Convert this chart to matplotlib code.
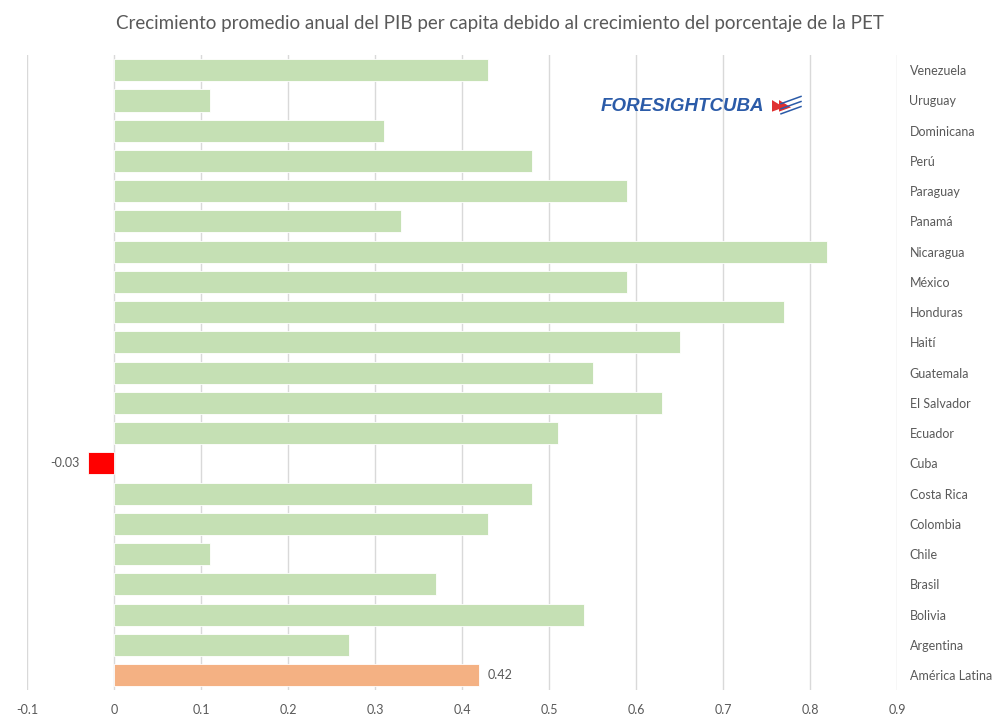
#!/usr/bin/env python3
"""Crecimiento del PIB per capita debido a la PET - bar chart"""
import matplotlib
matplotlib.use('Agg')
import matplotlib.pyplot as plt
from matplotlib.lines import Line2D
from matplotlib.patches import Polygon

countries = ['Venezuela', 'Uruguay', 'Dominicana', 'Perú', 'Paraguay', 'Panamá',
             'Nicaragua', 'México', 'Honduras', 'Haití', 'Guatemala', 'El Salvador',
             'Ecuador', 'Cuba', 'Costa Rica', 'Colombia', 'Chile', 'Brasil',
             'Bolivia', 'Argentina', 'América Latina']
values = [0.43, 0.11, 0.31, 0.48, 0.59, 0.33, 0.82, 0.59, 0.77, 0.65, 0.55, 0.63,
          0.51, -0.03, 0.48, 0.43, 0.11, 0.37, 0.54, 0.27, 0.42]
x_ticks = [-0.1, 0, 0.1, 0.2, 0.3, 0.4, 0.5, 0.6, 0.7, 0.8, 0.9]
x_tick_labels = ['-0.1', '0', '0.1', '0.2', '0.3', '0.4', '0.5', '0.6', '0.7', '0.8', '0.9']

plt.rcParams['font.family'] = ['Lato', 'DejaVu Sans']
grey = '#595959'

colors = []
for c, v in zip(countries, values):
    if c == 'América Latina':
        colors.append('#f4b183')
    elif c == 'Cuba':
        colors.append('#ff0000')
    else:
        colors.append('#c5e0b4')

fig = plt.figure(figsize=(10, 7.25), dpi=100)
ax = fig.add_axes([0.027, 0.048, 0.87, 0.876])

ypos = list(range(len(countries)))
ax.barh(ypos, values, height=0.73, color=colors, edgecolor='white', linewidth=0.6, zorder=3)

ax.set_xlim(-0.1, 0.9)
ax.set_ylim(len(countries) - 0.5, -0.5)
ax.set_xticks(x_ticks)
ax.set_xticklabels(x_tick_labels, color=grey, fontsize=9)
ax.set_yticks(ypos)
ax.set_yticklabels(countries, color=grey, fontsize=9, ha='left')
ax.yaxis.tick_right()
ax.tick_params(axis='y', length=0, pad=9)
ax.tick_params(axis='x', length=0, pad=10)
ax.grid(True, axis='x', color='#d9d9d9', linewidth=1, zorder=0)
for s in ax.spines.values():
    s.set_visible(False)

# data labels
cuba = countries.index('Cuba')
ax.text(values[cuba] - 0.01, cuba, f'{values[cuba]:.2f}', ha='right', va='center',
        color=grey, fontsize=9)
al = countries.index('América Latina')
ax.text(values[al] + 0.01, al, f'{values[al]:.2f}', ha='left', va='center',
        color=grey, fontsize=9)

fig.text(0.5, 0.967, 'Crecimiento promedio anual del PIB per capita debido al crecimiento del porcentaje de la PET',
         ha='center', va='center', color=grey, fontsize=13.5)

# logo
fig.text(0.601, 0.853, 'FORESIGHTCUBA', ha='left', va='center', color='#2b5ba8',
         fontsize=13.5, fontweight='bold', fontstyle='italic', family='Liberation Sans')
for dx in (0.0, 0.007):
    fig.patches.append(Polygon([[0.772 + dx, 0.846], [0.772 + dx, 0.862], [0.784 + dx, 0.852]],
                               closed=True, transform=fig.transFigure,
                               facecolor='#e03030', edgecolor='none'))
for i in range(3):
    y0 = 0.843 + i * 0.007
    fig.lines.append(Line2D([0.781, 0.801], [y0, y0 + 0.010], transform=fig.transFigure,
                            color='#2b5ba8', linewidth=1.1))

fig.savefig('out.png', dpi=100)
plt.close(fig)
